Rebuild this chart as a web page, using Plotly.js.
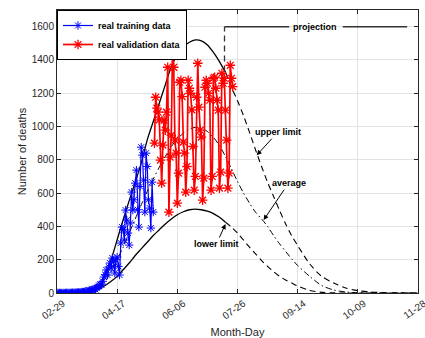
<!DOCTYPE html>
<html><head><meta charset="utf-8">
<script src="https://cdn.plot.ly/plotly-3.0.1.min.js"></script>
<style>html,body{margin:0;padding:0;background:#fff;}#chart{width:425px;height:338px;}</style>
</head><body><div id="chart"></div>
<script>
// ---- tick labels ----
const xTickVals = [0, 50, 100, 150, 200, 250, 300];
const xTickText = ["02-29", "04-17", "06-06", "07-26", "09-14", "10-09", "11-28"];

// ---- real training data (daily, from day 0) ----
const trainingStartDay = 0;
const trainingValues = [
  0, 0, 0, 0, 0, 0, 0, 0, 1, 0, 1, 0, 1, 2, 1, 2, 3, 2, 4, 3,
  5, 6, 5, 8, 10, 9, 12, 15, 14, 18, 22, 25, 21, 30, 38,
  45, 52, 48, 70, 96, 110, 138, 108, 156, 180, 150, 210, 190, 120, 200,
  216, 160, 108, 300, 396, 380, 318, 498, 438, 360, 288, 420, 606, 498, 560,
  660, 738, 500, 396, 640, 876, 828, 678, 486, 840, 760, 560, 510, 390, 666, 486
];

// ---- real validation data (daily, from day 81) ----
const validationStartDay = 81;
const validationValues = [
  900, 1176, 1110, 1086, 1040, 798, 660,
  888, 1038, 978, 1086, 1356, 486, 816,
  948, 1476, 1356, 918, 840, 540, 720,
  1266, 1278, 1180, 906, 840, 606, 760,
  1278, 1230, 1200, 1100, 880, 618, 700,
  1176, 1380, 1116, 978, 936, 558, 690,
  1236, 1278, 1260, 1200, 1158, 618, 700,
  1290, 1296, 1230, 1158, 1098, 630, 726,
  1320, 1260, 1290, 1098, 918, 630, 720,
  1368, 1290, 1240
];

// ---- fitted curves ----
const curveDays = [0, 20, 25, 30, 35, 40, 45, 50, 55, 60, 65, 70, 75, 80, 85, 90, 95, 100,
  105, 110, 115, 120, 125, 130, 135, 140, 145, 150, 155, 160, 165, 170, 175, 180, 185,
  190, 195, 200, 210, 220, 230, 240, 250, 260, 280, 300];
const upperLimit = [0, 0, 2, 10, 40, 110, 200, 320, 440, 555, 665, 780, 920, 1030, 1140,
  1250, 1360, 1430, 1478, 1506, 1520, 1515, 1490, 1445, 1390, 1325, 1235, 1155, 1065, 965,
  860, 760, 665, 580, 495, 415, 345, 285, 175, 100, 60, 30, 14, 6, 1, 0];
const averageCurve = [0, 0, 1, 8, 30, 70, 130, 200, 275, 360, 445, 530, 610, 685, 755,
  820, 880, 925, 960, 985, 995, 990, 970, 935, 885, 820, 745, 670, 600, 540,
  485, 445, 400, 345, 295, 250, 205, 165, 100, 45, 18, 6, 2, 0, 0, 0];
const lowerLimit = [0, 0, 1, 8, 25, 45, 70, 100, 140, 180, 225, 265, 305, 345, 380,
  415, 445, 470, 488, 500, 504, 500, 492, 477, 455, 425, 396, 360, 318, 275,
  235, 195, 160, 128, 100, 78, 60, 42, 15, 4, 1, 0, 0, 0, 0, 0];
const projectionStartDay = 140;

// ---- build traces ----
const trainDays = trainingValues.map((_, i) => trainingStartDay + i);
const validDays = validationValues.map((_, i) => validationStartDay + i);

function part(days, vals, before) {
  const xs = [], ys = [];
  days.forEach((d, i) => {
    if (before ? d <= projectionStartDay : d >= projectionStartDay) { xs.push(d); ys.push(vals[i]); }
  });
  return {x: xs, y: ys};
}

const black = '#000000';
const traces = [];
[upperLimit, lowerLimit].forEach(vals => {
  const a = part(curveDays, vals, true);
  const b = part(curveDays, vals, false);
  traces.push({x: a.x, y: a.y, type: 'scatter', mode: 'lines', showlegend: false, hoverinfo: 'skip',
    line: {color: black, width: 1.3, shape: 'spline', smoothing: 0.8}});
  traces.push({x: b.x, y: b.y, type: 'scatter', mode: 'lines', showlegend: false, hoverinfo: 'skip',
    line: {color: black, width: 1.1, dash: '6px,4px', shape: 'spline', smoothing: 0.8}});
});
traces.push({x: curveDays, y: averageCurve, type: 'scatter', mode: 'lines', showlegend: false, hoverinfo: 'skip',
  line: {color: black, width: 1, dash: '6px,3px,1.5px,3px', shape: 'spline', smoothing: 0.8}});

traces.push({x: trainDays, y: trainingValues, type: 'scatter', mode: 'lines+markers', name: 'real training data',
  line: {color: '#0000ff', width: 1.2},
  marker: {symbol: 'asterisk-open', size: 7, color: '#0000ff', line: {color: '#0000ff', width: 1}}});
traces.push({x: validDays, y: validationValues, type: 'scatter', mode: 'lines+markers', name: 'real validation data',
  line: {color: '#ff0000', width: 1.7},
  marker: {symbol: 'asterisk-open', size: 8, color: '#ff0000', line: {color: '#ff0000', width: 1.3}}});

const annFont = {family: 'Liberation Sans, Arial, sans-serif', size: 9, color: '#000', weight: 'bold'};
const axisFont = {family: 'Liberation Sans, Arial, sans-serif', size: 10, color: '#262626'};

const layout = {
  width: 425, height: 338,
  margin: {l: 57, r: 7, t: 10, b: 45, pad: 0},
  paper_bgcolor: '#fff', plot_bgcolor: '#fff',
  showlegend: true,
  legend: {x: 0, y: 1, xanchor: 'left', yanchor: 'top', bgcolor: '#fff', bordercolor: '#000', borderwidth: 1,
    font: annFont, tracegroupgap: 0, itemwidth: 30},
  xaxis: {
    range: [0, 300], tickvals: xTickVals, ticktext: xTickText, tickangle: -35, ticklabelshift: 6,
    ticklabeloverflow: 'allow',
    showgrid: true, gridcolor: '#e3e3e3', zeroline: false,
    showline: true, linecolor: '#262626', linewidth: 1, mirror: 'allticks',
    ticks: 'inside', ticklen: 4, tickcolor: '#262626', tickfont: axisFont,
    title: {text: 'Month-Day', font: {family: 'Liberation Sans, Arial, sans-serif', size: 11, color: '#262626'}, standoff: 9},
    automargin: false
  },
  yaxis: {
    range: [0, 1700], dtick: 200, tick0: 0,
    showgrid: true, gridcolor: '#e3e3e3', zeroline: false,
    showline: true, linecolor: '#262626', linewidth: 1, mirror: 'allticks',
    ticks: 'inside', ticklen: 4, tickcolor: '#262626', tickfont: axisFont,
    title: {text: 'Number of deaths', font: {family: 'Liberation Sans, Arial, sans-serif', size: 11, color: '#262626'}, standoff: 2},
    automargin: false
  },
  shapes: [
    {type: 'line', xref: 'x', yref: 'y', x0: 139.2, x1: 139.2, y0: 1330, y1: 1600,
      line: {color: '#333', width: 1.3, dash: '6px,4px'}},
    {type: 'line', xref: 'x', yref: 'y', x0: 139.2, x1: 193, y0: 1600, y1: 1600,
      line: {color: '#333', width: 1.5}},
    {type: 'line', xref: 'x', yref: 'y', x0: 237.5, x1: 291, y0: 1600, y1: 1600,
      line: {color: '#333', width: 1.5}}
  ],
  annotations: [
    {x: 214.5, y: 1600, xref: 'x', yref: 'y', text: 'projection', showarrow: false, font: annFont},
    {x: 166, y: 828, xref: 'x', yref: 'y', text: 'upper limit', showarrow: true, ax: 21, ay: -23,
      arrowhead: 2, arrowsize: 1, arrowwidth: 1, arrowcolor: '#000', standoff: 0, font: annFont},
    {x: 171.7, y: 438, xref: 'x', yref: 'y', text: 'average', showarrow: true, ax: 25, ay: -37,
      arrowhead: 2, arrowsize: 1, arrowwidth: 1, arrowcolor: '#000', standoff: 0, font: annFont},
    {x: 140, y: 414, xref: 'x', yref: 'y', text: 'lower limit', showarrow: true, ax: -9, ay: 20,
      arrowhead: 2, arrowsize: 1, arrowwidth: 1, arrowcolor: '#000', standoff: 0, font: annFont}
  ]
};

Plotly.newPlot('chart', traces, layout, {displayModeBar: false, staticPlot: true});
</script>
</body></html>
